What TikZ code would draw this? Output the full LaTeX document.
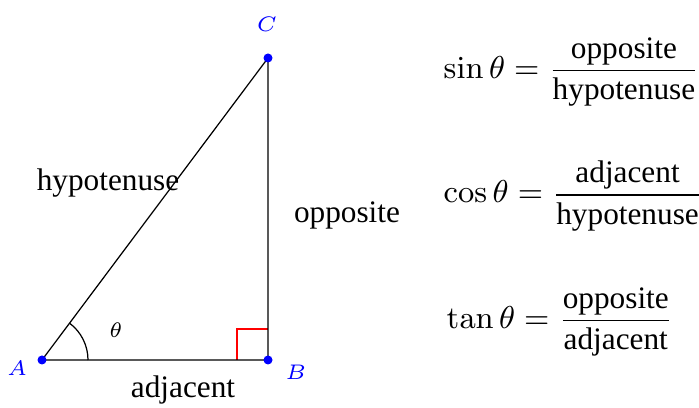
\documentclass[tikz,border=0pt]{standalone}
\usepackage{amsmath}
\usepackage[no-math]{fontspec}
\setmainfont{Liberation Serif}
\usetikzlibrary{positioning, calc}

\begin{document}
\begin{tikzpicture}
                    \tikzstyle{side} = [font=\fontsize{8.9}{10.7}\selectfont, inner sep=0pt]
                    \tikzstyle{vertex} = [blue, font=\fontsize{6.3}{7}\selectfont, inner sep=0pt]
                    \tikzstyle{ratio} = [anchor=west, font=\fontsize{8.9}{10.7}\selectfont, inner sep=0pt]
                    \useasboundingbox (0, 0) rectangle (6.99, 4.08);
                    \coordinate (A) at (0.42, 0.48);
                    \coordinate (B) at (2.68, 0.48);
                    \coordinate (C) at (2.68, 3.50);

                    % right angle and angle mark
                    \draw[red, line width=0.3pt] ($(B)+(-0.31,0)$) |- ($(B)+(0,0.31)$);
                    \draw[line width=0.35pt] ($(A)+(0.46,0)$) arc (0:53.2:0.46);
                    \draw[line width=0.35pt] (A) -- (B) -- (C) -- cycle;
                    \fill[blue] (A) circle (0.045) (B) circle (0.045) (C) circle (0.045);

                    \node[vertex] (labA) at (0.17, 0.40) {$A$};
                    \node[vertex] (labB) at (2.96, 0.36) {$B$};
                    \node[vertex] (labC) at (2.67, 3.84) {$C$};
                    \node[vertex, black] (labTheta) at (1.16, 0.78) {$\theta$};

                    \node[side] (hyp) at (1.08, 2.25) {hypotenuse};
                    \node[side] (opp) at (3.47, 1.93) {opposite};
                    \node[side] (adj) at (1.83, 0.18) {adjacent};

                    \node[ratio] (sin) at (4.43, 3.36) {$\sin\theta = \dfrac{\text{opposite}}{\text{hypotenuse}}$};
                    \node[ratio] (cos) at (4.43, 2.12) {$\cos\theta = \dfrac{\text{adjacent}}{\text{hypotenuse}}$};
                    \node[ratio] (tan) at (4.46, 0.86) {$\tan\theta = \dfrac{\text{opposite}}{\text{adjacent}}$};
                \end{tikzpicture}
\end{document}
